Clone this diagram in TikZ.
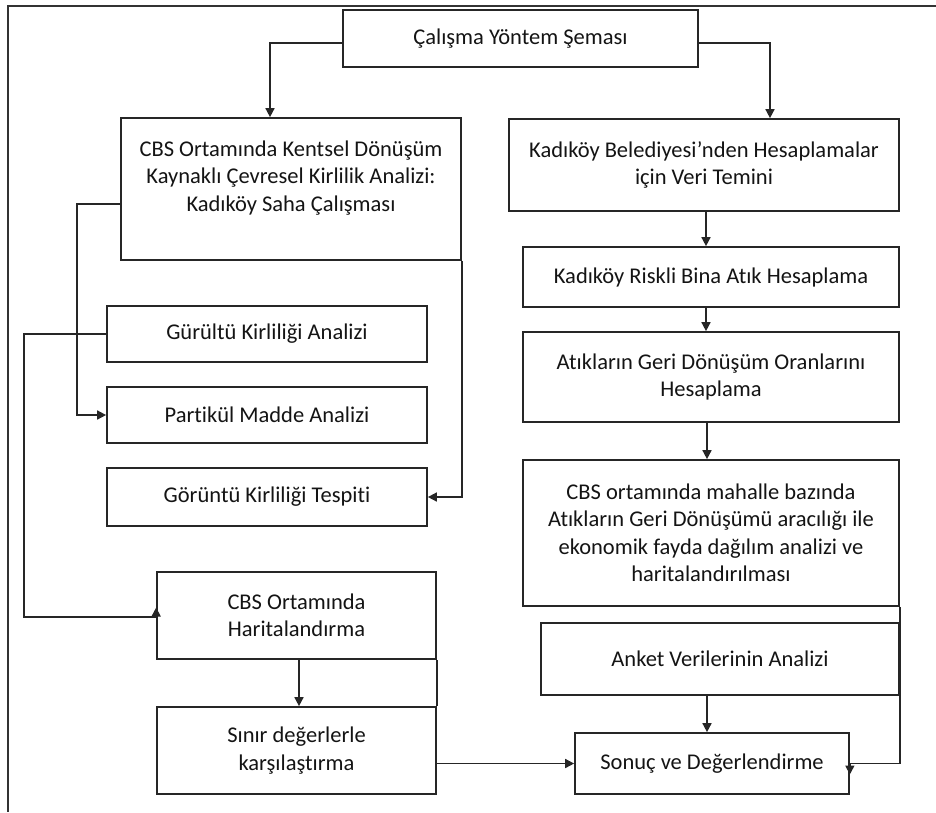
\documentclass[tikz,border=0pt]{standalone}
\usepackage{fontspec}
\setmainfont{Carlito}[Ligatures=NoCommon]
\usetikzlibrary{arrows.meta}
\tikzset{
  box/.style={draw=black!85, line width=1.7pt, fill=white, inner sep=0pt, align=center,
    font=\fontsize{22.5}{27.5}\selectfont, text=black!92},
  txt/.style={inner sep=0pt, align=center, font=\fontsize{22.5}{27.5}\selectfont, text=black!92},
  conn/.style={draw=black!85, line width=1.6pt},
  arr/.style={conn, -{Triangle[length=9pt,width=9pt]}},
  framestyle/.style={draw=black!80, line width=2pt}
}
\begin{document}
\begin{tikzpicture}[x=1pt,y=-1pt]
\useasboundingbox (0,0) rectangle (936,812);
% frame (top and left)
\coordinate (frTR) at (936,6);
\coordinate (frTL) at (8,6);
\coordinate (frBL) at (8,812);
\draw[framestyle] (frTR) -- (frTL) -- (frBL);

% nodes
\node[box, minimum width=355pt, minimum height=57pt] (title) at (520.5,38.5) {Çalışma Yöntem Şeması};
\node[box, minimum width=340pt, minimum height=142pt] (cbs) at (291,189) {};
\node[txt] (cbstext) at ([yshift=11pt]cbs.center) {CBS Ortamında Kentsel Dönüşüm\\Kaynaklı Çevresel Kirlilik Analizi:\\Kadıköy Saha Çalışması};
\node[box, minimum width=390pt, minimum height=92pt] (kb) at (704,165) {Kadıköy Belediyesi’nden Hesaplamalar\\için Veri Temini};
\node[box, minimum width=376pt, minimum height=60pt] (riskli) at (711,277) {Kadıköy Riskli Bina Atık Hesaplama};
\node[box, minimum width=376pt, minimum height=90pt] (atik) at (711,377) {Atıkların Geri Dönüşüm Oranlarını\\Hesaplama};
\node[box, minimum width=376pt, minimum height=146pt] (mahalle) at (711,533) {CBS ortamında mahalle bazında\\Atıkların Geri Dönüşümü aracılığı ile\\ekonomik fayda dağılım analizi ve\\haritalandırılması};
\node[box, minimum width=320pt, minimum height=56pt] (gurultu) at (267,334) {Gürültü Kirliliği Analizi};
\node[box, minimum width=320pt, minimum height=56pt] (partikul) at (267,415) {Partikül Madde Analizi};
\node[box, minimum width=320pt, minimum height=58pt] (goruntu) at (267,497) {Görüntü Kirliliği Tespiti};
\node[box, minimum width=279pt, minimum height=87pt] (harita) at (296.5,615.5) {CBS Ortamında\\Haritalandırma};
\node[box, minimum width=279pt, minimum height=87pt] (sinir) at (296.5,750.5) {Sınır değerlerle\\karşılaştırma};
\node[box, minimum width=358pt, minimum height=72pt] (anket) at (720,659) {Anket Verilerinin Analizi};
\node[box, minimum width=274pt, minimum height=61pt] (sonuc) at (712,763.5) {Sonuç ve Değerlendirme};

% connectors
\draw[arr] ([yshift=-4.5pt]title.west) -| ([xshift=-21pt]cbs.north);
\draw[arr] ([yshift=-4.5pt]title.east) -| ([xshift=66pt]kb.north);
\draw[arr] ([xshift=2pt]kb.south) -- ([xshift=2pt]kb.south |- riskli.north);
\draw[arr] ([xshift=-5pt]riskli.south) -- ([xshift=-5pt]atik.north);
\draw[arr] ([xshift=-4pt]atik.south) -- ([xshift=-4pt]mahalle.north);
\draw[arr] (mahalle.south east) |- (sonuc.east) -- ([yshift=-11pt]sonuc.east);
\draw[arr] ([xshift=-13pt]anket.south) -- ([xshift=-13pt]anket.south |- sonuc.north);
\draw[arr] ([yshift=-15pt]cbs.west) -- ++(-43,0) |- (partikul.west);
\draw[arr] (cbs.south east) |- (goruntu.east);
\draw[arr] (gurultu.west) -- ++(-82,0) |- ([yshift=-1.5pt]harita.west) -- ([yshift=8pt]harita.west);
\draw[arr] ([xshift=2.5pt]harita.south) -- ([xshift=2.5pt]sinir.north);
\draw[conn] (harita.south east) -- (sinir.north east);
\draw[arr] (sinir.east |- sonuc.west) -- (sonuc.west);
\end{tikzpicture}
\end{document}
